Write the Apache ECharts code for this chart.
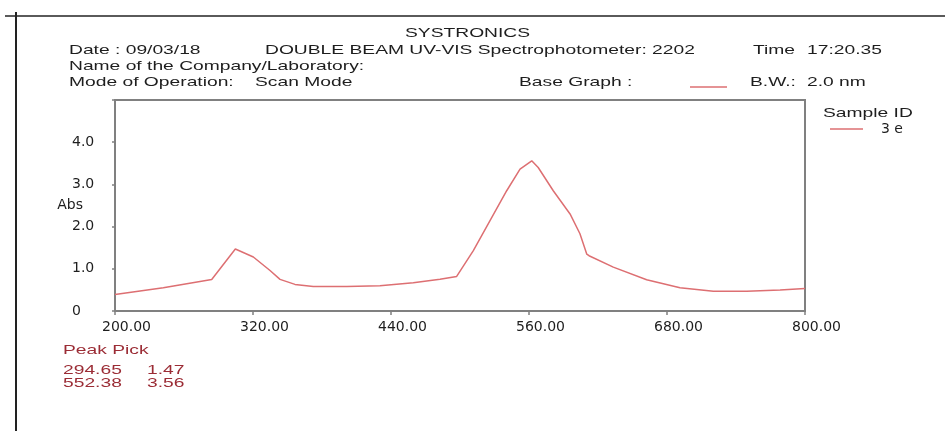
<!DOCTYPE html>
<html>
<head>
<meta charset="utf-8">
<script src="https://cdn.jsdelivr.net/npm/echarts@6/dist/echarts.min.js"></script>
<style>
  html, body { margin: 0; padding: 0; background: #ffffff; }
  #chart { width: 945px; height: 431px; }
</style>
</head>
<body>
<div id="chart"></div>
<script>
// Scan of sample "3 e": wavelength (nm) against absorbance
const wavelength = [190, 232, 274.1, 294.65, 310.3, 324.8, 333.5, 346.5, 362.4, 391.5, 420.4, 449.4, 472.6, 487.1,
  501.6, 516.1, 530.6, 542.2, 552.38, 558, 571.1, 585.7, 594.3, 600.2, 602.2, 623.3, 652.3, 681.3, 710.3, 739.3, 768.3, 790];
const absorbance = [0.39, 0.55, 0.745, 1.47, 1.28, 0.96, 0.75, 0.63, 0.58, 0.58, 0.60, 0.67, 0.75, 0.82,
  1.43, 2.14, 2.85, 3.36, 3.56, 3.40, 2.85, 2.30, 1.83, 1.35, 1.31, 1.04, 0.74, 0.55, 0.47, 0.47, 0.50, 0.535];

// Peak pick table
const peakWavelength = [294.65, 552.38];
const peakAbs = [1.47, 3.56];

// Axis ticks
const xTickValues = [200, 320, 440, 560, 680, 800];
const yTickValues = [0, 1, 2, 3, 4];
const yMax = 5;
// Scan range covered by the plot frame
const scanRange = [190, 790];

const sampleName = '3 e';

const TEXT = '#1e1e1e';
const RED = '#dd6f72';
const PEAK_RED = '#9b2c35';
const AXIS = '#808080';
const SX = 1.48;

function txt(text, x, y, color) {
  return {
    type: 'text', x: x, y: y, scaleX: SX, z: 10,
    style: {
      text: text, fill: color || TEXT,
      fontSize: 13, fontFamily: '"Liberation Sans", Arial, sans-serif',
      textAlign: 'left', textVerticalAlign: 'middle', verticalAlign: 'middle'
    }
  };
}
function seg(x1, y1, x2, y2, color, w) {
  return { type: 'line', z: 10, shape: { x1: x1, y1: y1, x2: x2, y2: y2 }, style: { stroke: color, lineWidth: w } };
}

const peakLines = peakWavelength.map(function (w, i) {
  return [w.toFixed(2), peakAbs[i].toFixed(2)];
});

const graphics = [
  seg(5, 16, 945, 16, '#5a5a5a', 2),
  seg(16, 12, 16, 431, '#222222', 2),
  txt('SYSTRONICS', 405, 33),
  txt('Date : 09/03/18', 69, 50),
  txt('DOUBLE BEAM UV-VIS Spectrophotometer: 2202', 265, 50),
  txt('Time', 753, 50),
  txt('17:20.35', 807, 50),
  txt('Name of the Company/Laboratory:', 69, 66),
  txt('Mode of Operation:', 69, 82),
  txt('Scan Mode', 255, 82),
  txt('Base Graph :', 519, 82),
  seg(690, 87, 727, 87, RED, 1.5),
  txt('B.W.:', 750, 82),
  txt('2.0 nm', 807, 82),
  txt('Sample ID', 823, 113),
  txt('Peak Pick', 63, 350, PEAK_RED)
];
peakLines.forEach(function (p, i) {
  graphics.push(txt(p[0], 63, 370 + i * 13.5, PEAK_RED));
  graphics.push(txt(p[1], 147, 370 + i * 13.5, PEAK_RED));
});

const chart = echarts.init(document.getElementById('chart'), null, { renderer: 'canvas' });
chart.setOption({
  animation: false,
  backgroundColor: '#ffffff',
  grid: { left: 115, right: 140, top: 100, bottom: 120, show: true, borderColor: AXIS, borderWidth: 2 },
  legend: {
    data: [sampleName], left: 830, top: 122, padding: 0, icon: 'rect', itemWidth: 33, itemHeight: 1.5,
    textStyle: { fontFamily: 'DejaVu Sans', fontSize: 14, color: TEXT, padding: [0, 0, 0, 13] }
  },
  xAxis: [
    {
      type: 'value',
      min: xTickValues[0], max: xTickValues[xTickValues.length - 1],
      interval: xTickValues[1] - xTickValues[0],
      axisLine: { show: true, lineStyle: { color: AXIS, width: 2 } },
      axisTick: { show: true, length: 4, lineStyle: { color: AXIS, width: 1.5 } },
      splitLine: { show: false },
      axisLabel: {
        formatter: function (v) { return v.toFixed(2); },
        fontFamily: 'DejaVu Sans', fontSize: 14, color: TEXT, margin: 9,
        padding: [0, 0, 0, 23]
      }
    },
    {
      type: 'value', min: scanRange[0], max: scanRange[1], show: false,
      splitLine: { show: false }
    }
  ],
  yAxis: {
    type: 'value', min: yTickValues[0], max: yMax, interval: yTickValues[1] - yTickValues[0],
    name: 'Abs', nameLocation: 'middle', nameRotate: 0, nameGap: 32, nameMoveOverlap: false,
    nameTextStyle: { fontFamily: 'DejaVu Sans', fontSize: 14, color: TEXT, align: 'right', verticalAlign: 'middle' },
    axisLine: { show: true, lineStyle: { color: AXIS, width: 2 } },
    axisTick: { show: true, length: 3, lineStyle: { color: AXIS, width: 1.5 } },
    splitLine: { show: false },
    axisLabel: {
      align: 'left', margin: 43, fontFamily: 'DejaVu Sans', fontSize: 14, color: TEXT,
      formatter: function (v) {
        if (yTickValues.indexOf(v) < 0) return '';
        return v === 0 ? '0' : v.toFixed(1);
      }
    }
  },
  series: [{
    name: sampleName, type: 'line', xAxisIndex: 1, symbol: 'none', smooth: false,
    lineStyle: { color: RED, width: 1.5 }, itemStyle: { color: RED },
    data: wavelength.map(function (w, i) { return [w, absorbance[i]]; })
  }],
  graphic: graphics
});
</script>
</body>
</html>
